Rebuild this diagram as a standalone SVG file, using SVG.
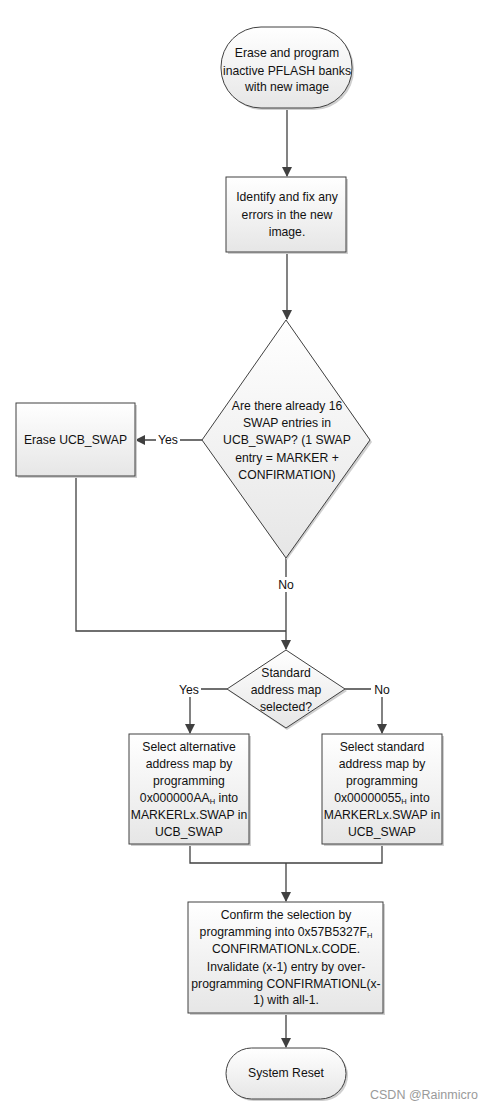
<svg xmlns="http://www.w3.org/2000/svg" width="504" height="1109" viewBox="0 0 504 1109">
<defs>
<linearGradient id="g" x1="0" y1="0" x2="0" y2="1"><stop offset="0" stop-color="#ffffff"/><stop offset="1" stop-color="#e6e6e6"/></linearGradient>
<marker id="ah" markerWidth="10" markerHeight="10" refX="9" refY="5" orient="auto" markerUnits="userSpaceOnUse"><path d="M0,0 L10,5 L0,10 Z" fill="#404040"/></marker>
<style>
.n{fill:url(#g);stroke:#404040;stroke-width:1}
.sh{fill:#cfcfcf;stroke:none}
.t{font-family:"Liberation Sans",Arial,sans-serif;font-size:12.2px;fill:#111111;text-anchor:middle}
.c{fill:none;stroke:#404040;stroke-width:1.3}
.a{marker-end:url(#ah)}
.lb{fill:#ffffff}
.s{font-size:7.5px}
</style>
</defs>
<rect width="504" height="1109" fill="#ffffff"/>
<g id="connectors">
<path class="c a" d="M287,108 V176"/>
<path class="c a" d="M287,252 V319"/>
<path class="c a" d="M202,440 H136"/>
<path class="c" d="M286,558 V631"/>
<path class="c" d="M76,476 V631 H286"/>
<path class="c a" d="M286,631 V649"/>
<path class="c a" d="M227,689 H190 V733"/>
<path class="c a" d="M345,689 H382 V733"/>
<path class="c" d="M190,844 V863 H382 V844"/>
<path class="c a" d="M286,863 V901"/>
<path class="c a" d="M286,1013 V1047"/>
<rect class="lb" x="156" y="432" width="24" height="15"/>
<text class="t" x="168" y="444">Yes</text>
<rect class="lb" x="275" y="577" width="22" height="15"/>
<text class="t" x="286" y="589">No</text>
<rect class="lb" x="177" y="682" width="24" height="15"/>
<text class="t" x="189" y="694">Yes</text>
<rect class="lb" x="371" y="682" width="22" height="15"/>
<text class="t" x="382" y="694">No</text>
</g>
<g id="start">
<rect class="sh" x="223" y="29" width="131" height="81" rx="40"/>
<rect class="n" x="221" y="27" width="131" height="81" rx="40"/>
<text class="t" x="287" y="57">Erase and program</text>
<text class="t" x="287" y="74.5">inactive PFLASH banks</text>
<text class="t" x="287" y="91">with new image</text>
</g>
<g id="identify">
<rect class="sh" x="228" y="179" width="120" height="75"/>
<rect class="n" x="226" y="177" width="120" height="75"/>
<text class="t" x="287" y="201">Identify and fix any</text>
<text class="t" x="287" y="219">errors in the new</text>
<text class="t" x="287" y="236">image.</text>
</g>
<g id="decision1">
<path class="sh" d="M287,322 L372,442 L287,560 L204,442 Z"/>
<path class="n" d="M286,320 L370,440 L286,558 L202,440 Z"/>
<text class="t" x="287" y="410">Are there already 16</text>
<text class="t" x="287" y="427">SWAP entries in</text>
<text class="t" x="287" y="444">UCB_SWAP? (1 SWAP</text>
<text class="t" x="287" y="462">entry = MARKER +</text>
<text class="t" x="287" y="479">CONFIRMATION)</text>
</g>
<g id="erase">
<rect class="sh" x="18" y="405" width="119" height="73"/>
<rect class="n" x="16" y="403" width="119" height="73"/>
<text class="t" x="75.5" y="444">Erase UCB_SWAP</text>
</g>
<g id="decision2">
<path class="sh" d="M287,652 L347,691 L287,730 L229,691 Z"/>
<path class="n" d="M286,650 L345,689 L286,728 L227,689 Z"/>
<text class="t" x="286" y="677">Standard</text>
<text class="t" x="286" y="694">address map</text>
<text class="t" x="286" y="711">selected?</text>
</g>
<g id="alt">
<rect class="sh" x="131" y="736" width="120" height="110"/>
<rect class="n" x="129" y="734" width="120" height="110"/>
<text class="t" x="189" y="751">Select alternative</text>
<text class="t" x="189" y="768">address map by</text>
<text class="t" x="189" y="785">programming</text>
<text class="t" x="189" y="802">0x000000AA<tspan class="s" dy="2">H</tspan><tspan dy="-2"> into</tspan></text>
<text class="t" x="189" y="819">MARKERLx.SWAP in</text>
<text class="t" x="189" y="836">UCB_SWAP</text>
</g>
<g id="std">
<rect class="sh" x="324" y="736" width="120" height="110"/>
<rect class="n" x="322" y="734" width="120" height="110"/>
<text class="t" x="382" y="751">Select standard</text>
<text class="t" x="382" y="768">address map by</text>
<text class="t" x="382" y="785">programming</text>
<text class="t" x="382" y="802">0x00000055<tspan class="s" dy="2">H</tspan><tspan dy="-2"> into</tspan></text>
<text class="t" x="382" y="819">MARKERLx.SWAP in</text>
<text class="t" x="382" y="836">UCB_SWAP</text>
</g>
<g id="confirm">
<rect class="sh" x="190" y="904" width="195" height="111"/>
<rect class="n" x="188" y="902" width="195" height="111"/>
<text class="t" x="286" y="919">Confirm the selection by</text>
<text class="t" x="286" y="936">programming into 0x57B5327F<tspan class="s" dy="2">H</tspan></text>
<text class="t" x="286" y="953">CONFIRMATIONLx.CODE.</text>
<text class="t" x="286" y="971">Invalidate (x-1) entry by over-</text>
<text class="t" x="286" y="988">programming CONFIRMATIONL(x-</text>
<text class="t" x="286" y="1004">1) with all-1.</text>
</g>
<g id="reset">
<rect class="sh" x="228" y="1050" width="120" height="51" rx="25.5"/>
<rect class="n" x="226" y="1048" width="120" height="51" rx="25.5"/>
<text class="t" x="286" y="1077">System Reset</text>
</g>
<text x="370" y="1099" style="font-family:'Liberation Sans',Arial,sans-serif;font-size:12.5px;fill:#9a9a9a">CSDN @Rainmicro</text>
</svg>
